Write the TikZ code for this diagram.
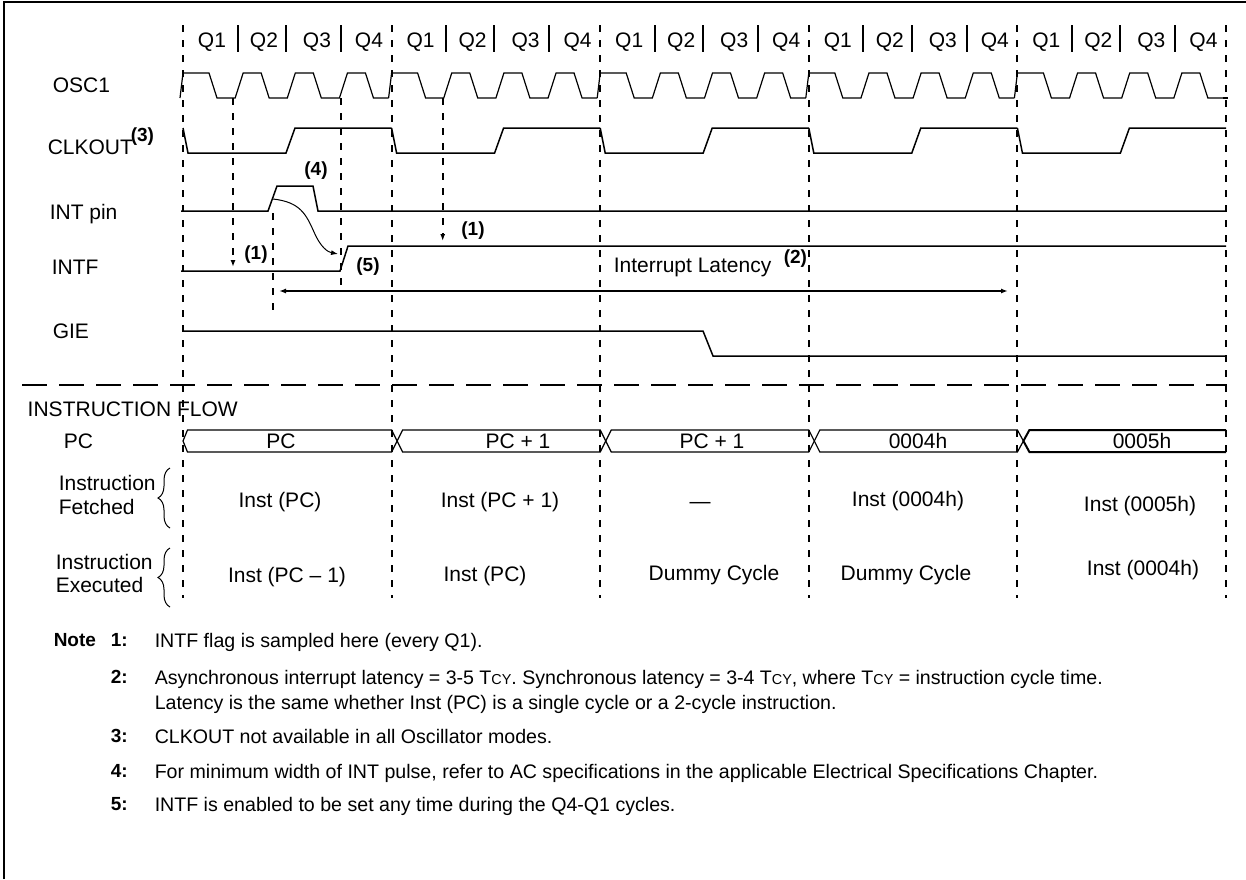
\documentclass[tikz,border=0pt]{standalone}
\usepackage{fontspec}
\setmainfont{Liberation Sans}
\usepackage{tikz}
\usetikzlibrary{arrows.meta,decorations.pathreplacing}
\tikzset{every picture/.style={line width=0.75pt}}
\tikzset{
  sig/.style={anchor=west,inner sep=0pt,text height=7.5pt,text depth=0pt,font=\fontsize{10.5}{12}\selectfont},
  val/.style={inner sep=0pt,text height=7.5pt,text depth=0pt,font=\fontsize{10.5}{12}\selectfont},
  tag/.style={inner sep=0pt,text height=6.8pt,text depth=0pt,font=\bfseries\fontsize{9.5}{11}\selectfont},
  notetxt/.style={anchor=west,inner sep=0pt,text height=7pt,text depth=0pt,font=\fontsize{9.8}{11}\selectfont},
  wave/.style={line width=0.75pt},
  cyc/.style={line width=1pt,dash pattern=on 3.5pt off 4pt},
  flowsep/.style={line width=1pt,dash pattern=on 12.5pt off 6pt},
  tip/.style={-{Latex[length=3.5pt,width=2.5pt]}}
}
\newcommand{\tcy}{T{\fontsize{7.2}{8}\selectfont CY}}

\begin{document}
\begin{tikzpicture}[x=0.5pt,y=-0.5pt]
\useasboundingbox (0,0) rectangle (1246,879);
\draw[line width=1pt] (4,879) -- (4,1.5) -- (1246,1.5);
%
\foreach \c in {0,...,5}
  \draw[cyc] ({183+\c*208.6},25) -- ({183+\c*208.6},598);
\foreach \c in {0,...,4}{
  \pgfmathsetmacro{\xc}{183+\c*208.6}
  \foreach \q/\dx in {1/29,2/81,3/134,4/186}
    \node[val] (q\c\q) at ({\xc+\dx},40) {Q\q};
  \foreach \dx in {54.5,102.7,157.7}
    \draw[line width=1pt] ({\xc+\dx},25) -- ({\xc+\dx},52);
  % OSC1
  \draw[wave,line width=0.6pt] ({\xc-3},98) -- (\xc,73) -- ++(26,0) -- ++(8,25) -- ++(18.15,0)
    -- ++(8,-25) -- ++(18,0) -- ++(8,25) -- ++(18.15,0)
    -- ++(8,-25) -- ++(18,0) -- ++(8,25) -- ++(18.15,0)
    -- ++(8,-25) -- ++(18,0) -- ++(8,25) -- ++(15.15,0);
  % CLKOUT
  \draw[wave] (\xc,128) -- ++(5,25) -- ({\xc+103},153) -- ++(9,-25) -- ({\xc+208.6},128);
}
\draw[wave,line width=0.6pt] (1222.6,98) -- (1228,98);
%
\node[sig] (osc) at (52,85) {OSC1};
\node[sig] (clk) at (47,147) {CLKOUT};
\node[tag,anchor=west] (clk3) at (130,135) {(3)};
\node[sig] (intpin) at (49,212) {INT pin};
\node[sig] (intf) at (51,267) {INTF};
\node[sig] (gie) at (52,331) {GIE};
%
\draw[wave] (181,211) -- (268,211) -- (277,186) -- (313,186) -- (318,211) -- (1226,211);
\draw[wave] (181,271) -- (340,271) -- (348,246) -- (1226,246);
\draw[wave] (183,331) -- (703,331) -- (713,356) -- (1226,356);
%
\draw[cyc] (273,213) -- (273,315);
\draw[cyc] (341,98) -- (341,287);
\coordinate (s1a) at (233,98);
\coordinate (s1b) at (233,267);
\coordinate (s2a) at (442.7,98);
\coordinate (s2b) at (442.7,241);
\draw[cyc,tip] (s1a) -- (s1b);
\draw[cyc,tip] (s2a) -- (s2b);
\node[tag] (m1) at (256,253) {(1)};
\node[tag] (m1b) at (473,229) {(1)};
\node[tag] (m4) at (316,169) {(4)};
\node[tag] (m5) at (368,265) {(5)};
\coordinate (edge) at (273,199);
\coordinate (flag) at (338,254);
\draw[line width=0.5pt,tip] (edge) .. controls (300,202) and (306,214) .. (314,232)
  .. controls (321,248) and (328,252) .. (flag);
%
\coordinate (lat1) at (279,291);
\coordinate (lat2) at (1008,291);
\draw[line width=1pt,{Latex[length=3.5pt,width=2.5pt]}-{Latex[length=3.5pt,width=2.5pt]}] (lat1) -- (lat2);
\node[sig] (lat) at (613,265) {Interrupt Latency};
\node[tag,anchor=west] (lat2n) at (783,257) {(2)};
%
\draw[flowsep] (22,385) -- (1227,385);
\node[sig] (flow) at (27,409) {INSTRUCTION FLOW};
\node[sig] (pc) at (63,441) {PC};
%
\draw[line width=0.6pt] (183,441) -- (187.5,430) -- (391.6,430) -- (397.1,441) -- (391.6,452) -- (187.5,452) -- cycle;
\draw[line width=0.6pt] (397.1,441) -- (402.6,430) -- (600.2,430) -- (605.7,441) -- (600.2,452) -- (402.6,452) -- cycle;
\draw[line width=0.6pt] (605.7,441) -- (611.2,430) -- (808.8,430) -- (814.3,441) -- (808.8,452) -- (611.2,452) -- cycle;
\draw[line width=0.6pt] (814.3,441) -- (819.8,430) -- (1017.4,430) -- (1023.4,441) -- (1017.4,452) -- (819.8,452) -- cycle;
\draw[line width=1pt] (1226,430) -- (1029.4,430) -- (1023.4,441) -- (1029.4,452) -- (1226,452);
\node[val] (pc0) at (281,441) {PC};
\node[val] (pc1) at (518,441) {PC + 1};
\node[val] (pc2) at (712,441) {PC + 1};
\node[val] (pc3) at (918,441) {0004h};
\node[val] (pc4) at (1142,441) {0005h};
%
\node[sig] (fetch) at (58,483) {Instruction};
\node[sig] (fetch2) at (58,507) {Fetched};
\draw[line width=0.5pt,decorate,decoration={brace,amplitude=6pt}] (170,528) -- (170,468);
\node[sig] (exec) at (55,562) {Instruction};
\node[sig] (exec2) at (55,585) {Executed};
\draw[line width=0.5pt,decorate,decoration={brace,amplitude=6pt}] (170,607) -- (170,548);
%
\node[val] (f0) at (280,500) {Inst (PC)};
\node[val] (f1) at (500,500) {Inst (PC + 1)};
\node[val] (f2) at (700,501) {---};
\node[val] (f3) at (908,499) {Inst (0004h)};
\node[val] (f4) at (1140,504) {Inst (0005h)};
\node[val] (e0) at (287,575) {Inst (PC -- 1)};
\node[val] (e1) at (485,574) {Inst (PC)};
\node[val] (e2) at (714,573) {Dummy Cycle};
\node[val] (e3) at (906,573) {Dummy Cycle};
\node[val] (e4) at (1143,568) {Inst (0004h)};
%
\node[tag,anchor=west] (note) at (53,640) {Note};
\node[tag,anchor=west] (n1) at (110,640) {1:};
\node[notetxt] (t1) at (154,640) {INTF flag is sampled here (every Q1).};
\node[tag,anchor=west] (n2) at (110,677) {2:};
\node[notetxt] (t2) at (154,677) {\makebox[474pt][s]{Asynchronous interrupt latency = 3-5 \tcy. Synchronous latency = 3-4 \tcy, where \tcy{} = instruction cycle time.}};
\node[notetxt] (t2b) at (154,702) {Latency is the same whether Inst (PC) is a single cycle or a 2-cycle instruction.};
\node[tag,anchor=west] (n3) at (110,736) {3:};
\node[notetxt] (t3) at (154,736) {CLKOUT not available in all Oscillator modes.};
\node[tag,anchor=west] (n4) at (110,771) {4:};
\node[notetxt] (t4) at (154,771) {For minimum width of INT pulse, refer to AC specifications in the applicable Electrical Specifications Chapter.};
\node[tag,anchor=west] (n5) at (110,804) {5:};
\node[notetxt] (t5) at (154,804) {INTF is enabled to be set any time during the Q4-Q1 cycles.};
\end{tikzpicture}
\end{document}
